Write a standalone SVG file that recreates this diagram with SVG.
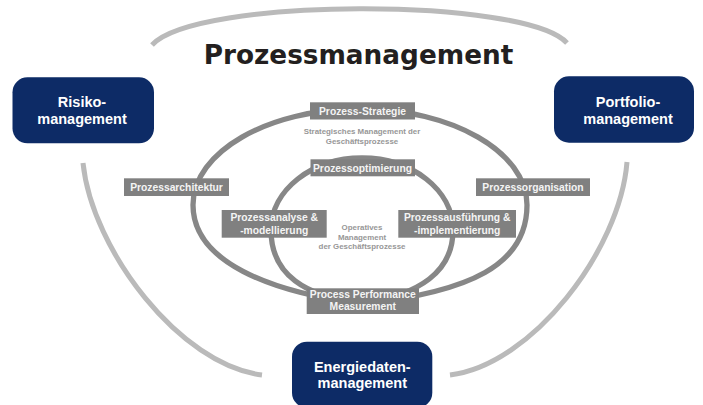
<svg xmlns="http://www.w3.org/2000/svg" width="703" height="405" viewBox="0 0 703 405">
  <style>
    .arc { fill: none; stroke: #bababa; stroke-width: 5; }
    .ring { fill: none; stroke: #878787; stroke-width: 5.3; }
    .lbl rect { fill: #808080; }
    .lbl text { font-family: "Liberation Sans", Arial, sans-serif; font-weight: bold; font-size: 10.3px; fill: #f4f4f4; text-anchor: middle; }
    .note { font-family: "Liberation Sans", Arial, sans-serif; font-weight: bold; font-size: 7.9px; fill: #979797; text-anchor: middle; }
    .area rect { fill: #0d2b66; }
    .area text { font-family: "Liberation Sans", Arial, sans-serif; font-weight: bold; font-size: 14.5px; fill: #ffffff; text-anchor: middle; }
    .title { font-family: "DejaVu Sans", Verdana, sans-serif; font-weight: bold; font-size: 26.3px; fill: #231f20; text-anchor: middle; }
  </style>

  <!-- light outer arcs and the two process rings -->
  <g id="connectors">
    <path class="arc" d="M152,45 C195,-3 525,-3 567,43"/>
    <path class="arc" d="M83,163 C92,250 180,365 262,375"/>
    <path class="arc" d="M627,162 C620,250 532,365 450,375"/>
    <path class="ring" d="M362,304 C270,292 193,262 193,205 C193,152 268,109 360,109 C452,109 527,152 527,205 C527,265 470,292 362,304 Z"/>
    <path class="ring" d="M362,304 C305,296 271,275 271,230 C271,190 312,158 362,158 C412,158 453,190 453,230 C453,272 420,294 362,304 Z"/>
  </g>

  <text class="title" x="358.5" y="63.5">Prozessmanagement</text>

  <g id="strategie" class="lbl">
    <rect x="310" y="102.3" width="105" height="17.2"/>
    <text x="362.5" y="114.8">Prozess-Strategie</text>
  </g>
  <g id="strategie-note">
    <text class="note" x="362" y="133.5">Strategisches Management der</text>
    <text class="note" x="362" y="143.5">Geschäftsprozesse</text>
  </g>
  <g id="optimierung" class="lbl">
    <rect x="310.5" y="159.3" width="104.5" height="17"/>
    <text x="362.5" y="171.6">Prozessoptimierung</text>
  </g>
  <g id="architektur" class="lbl">
    <rect x="124" y="178.3" width="105" height="17.7"/>
    <text x="176.5" y="190.8">Prozessarchitektur</text>
  </g>
  <g id="organisation" class="lbl">
    <rect x="476" y="178.3" width="114" height="17.7"/>
    <text x="533" y="190.8">Prozessorganisation</text>
  </g>
  <g id="analyse" class="lbl">
    <rect x="221.7" y="210" width="105" height="27.7"/>
    <text x="274.2" y="221">Prozessanalyse &amp;</text>
    <text x="274.2" y="233.8">-modellierung</text>
  </g>
  <g id="ausfuehrung" class="lbl">
    <rect x="398.3" y="210" width="117.7" height="27.7"/>
    <text x="457.2" y="221">Prozessausführung &amp;</text>
    <text x="457.2" y="233.8">-implementierung</text>
  </g>
  <g id="operativ-note">
    <text class="note" x="362" y="229.8">Operatives</text>
    <text class="note" x="362" y="240">Management</text>
    <text class="note" x="362" y="248.8">der Geschäftsprozesse</text>
  </g>
  <g id="performance" class="lbl">
    <rect x="306.7" y="288.3" width="112.3" height="25.7"/>
    <text x="362.8" y="298">Process Performance</text>
    <text x="362.8" y="310.2">Measurement</text>
  </g>

  <g id="risiko" class="area">
    <rect x="12.5" y="77.3" width="141.5" height="66" rx="15"/>
    <text x="82" y="107.3">Risiko-</text>
    <text x="82" y="123.5">management</text>
  </g>
  <g id="portfolio" class="area">
    <rect x="554" y="76.3" width="140" height="66.4" rx="15"/>
    <text x="628" y="107.3">Portfolio-</text>
    <text x="628" y="123.5">management</text>
  </g>
  <g id="energiedaten" class="area">
    <rect x="292" y="341.7" width="140.3" height="66" rx="15"/>
    <text x="362.3" y="372">Energiedaten-</text>
    <text x="362.3" y="388.3">management</text>
  </g>
</svg>
